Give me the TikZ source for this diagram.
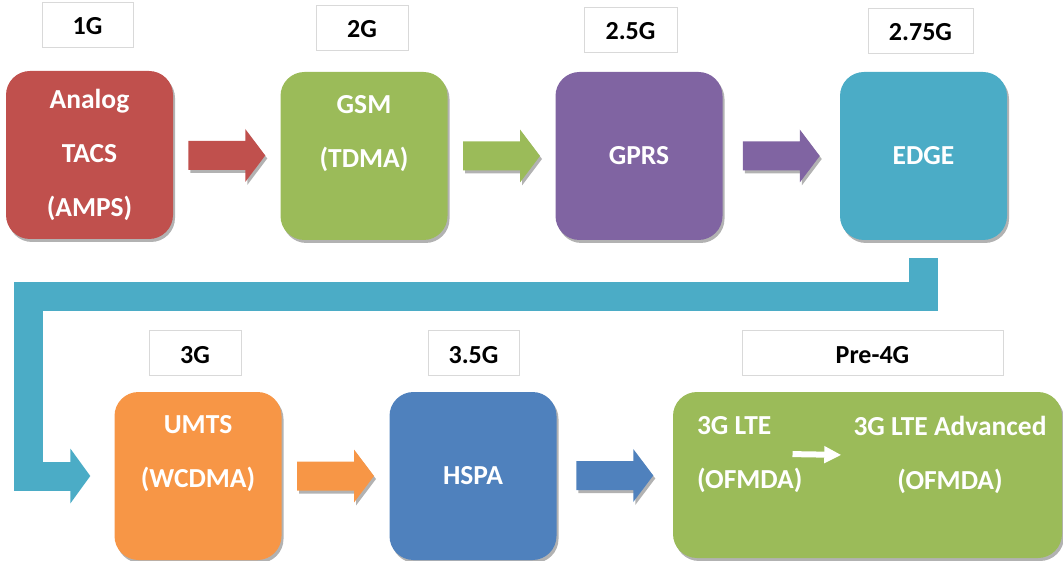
\documentclass[tikz,border=0pt]{standalone}
\usepackage{fontspec}
\setmainfont{Carlito}
\usepackage{xcolor}
\definecolor{genred}{HTML}{C0504D}
\definecolor{gengreen}{HTML}{9BBB59}
\definecolor{genpurple}{HTML}{8064A2}
\definecolor{genteal}{HTML}{4BACC6}
\definecolor{genorange}{HTML}{F79646}
\definecolor{genblue}{HTML}{4F81BD}
\usepackage{tikz}
\usetikzlibrary{arrows.meta, positioning, calc, shadows}

\tikzset{
  genshadow/.style={drop shadow={shadow xshift=2pt, shadow yshift=-3pt, fill=black, opacity=0.3}},
  genbox/.style={rectangle, rounded corners=24pt, minimum width=167pt, minimum height=168pt,
    inner sep=0pt, text=white, font=\fontsize{27.5}{54}\selectfont\bfseries, align=center, genshadow},
  genlabel/.style={rectangle, draw=black!15, fill=white, minimum height=45pt, inner sep=0pt,
    text height=20pt, text depth=0pt, font=\fontsize{26}{30}\selectfont\bfseries},
  boxtxt/.style={inner sep=0pt, text=white, font=\fontsize{27.5}{54}\selectfont\bfseries, align=center},
}

% block arrow centred in the gap between two boxes
\newcommand{\genarrow}[3]{%
  \fill[#3, genshadow, shift={($(#1.east)!0.5!(#2.west)$)}]
    (-38.5,-14.5) -- (18.5,-14.5) -- (18.5,-26.5) -- (38.5,0)
    -- (18.5,26.5) -- (18.5,14.5) -- (-38.5,14.5) -- cycle;}

\begin{document}
\begin{tikzpicture}[x=1pt, y=-1pt]
  \useasboundingbox (0,0) rectangle (1063,561);

  % top row
  \node[genbox, fill=genred] (g1) at (89.5,155) {Analog\\TACS\\(AMPS)};
  \node[genbox, fill=gengreen] (g2) at (364,156) {};
  \node[boxtxt, anchor=north] (g2txt) at ([yshift=-23pt]g2.north) {GSM\\(TDMA)};
  \node[genbox, fill=genpurple] (g3) at (639,156) {GPRS};
  \node[genbox, fill=genteal] (g4) at (923.5,156) {EDGE};

  \node[genlabel, minimum width=91pt] (l1) at (87.5,25) {1G};
  \node[genlabel, minimum width=92pt] (l2) at (362,27.5) {2G};
  \node[genlabel, minimum width=93pt] (l3) at (630.5,29.5) {2.5G};
  \node[genlabel, minimum width=105pt] (l4) at (920.5,30.5) {2.75G};

  \genarrow{g1}{g2}{genred}
  \genarrow{g2}{g3}{gengreen}
  \genarrow{g3}{g4}{genpurple}

  % bottom row
  \node[genbox, fill=genorange] (g5) at (198,476) {};
  \node[boxtxt, anchor=north] (g5txt) at ([yshift=-23pt]g5.north) {UMTS\\(WCDMA)};
  \node[genbox, fill=genblue] (g6) at (473,476) {HSPA};
  \node[genbox, fill=gengreen, minimum width=389pt, minimum height=166pt] (g7) at (867.5,475) {};
  \node[boxtxt, align=left, anchor=north west] (lte) at ([xshift=24pt, yshift=-24pt]g7.north west) {3G LTE\\(OFMDA)};
  \node[boxtxt, anchor=north] (ltea) at (950,416) {3G LTE Advanced\\(OFMDA)};
  \draw[white, line width=6pt, -{Triangle[length=17pt, width=16pt]}] ([xshift=-10pt]lte.east) -- ([xshift=-12pt]ltea.west);

  \node[genlabel, minimum width=92pt] (l5) at (195,353) {3G};
  \node[genlabel, minimum width=91pt] (l6) at (473.5,353) {3.5G};
  \node[genlabel, minimum width=261pt] (l7) at (872.5,353) {Pre-4G};

  \genarrow{g5}{g6}{genorange}
  \genarrow{g6}{g7}{genblue}

  % elbow from EDGE down to UMTS
  \coordinate (bendL) at (28,296.5);
  \draw[genteal, line width=29pt, line join=miter, -{Triangle[length=20pt, width=54pt]}]
    ([yshift=-18pt]g4.south) |- (bendL) |- ([xshift=-24pt]g5.west);
\end{tikzpicture}
\end{document}
